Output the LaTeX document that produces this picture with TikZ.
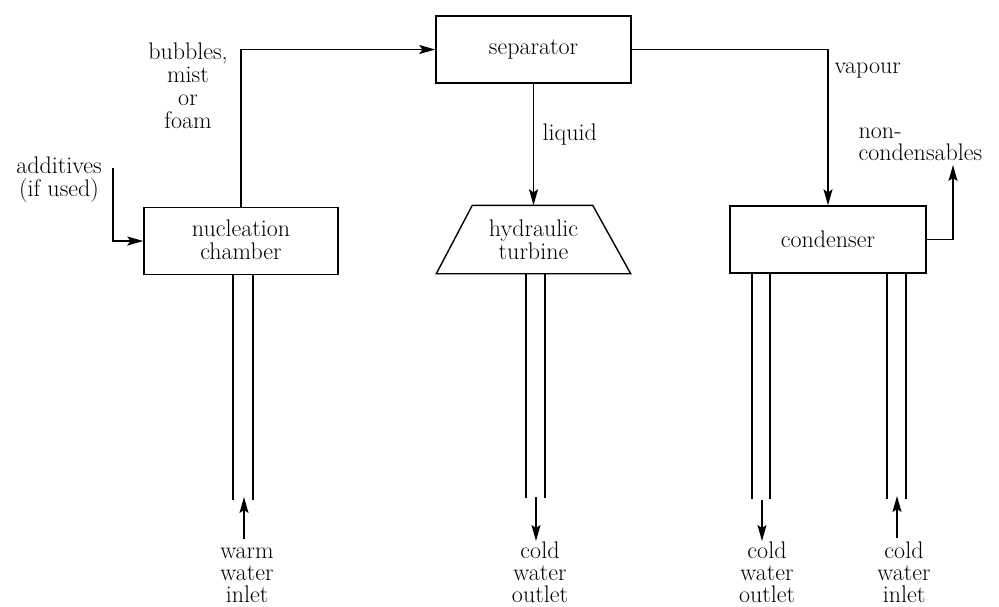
\documentclass[tikz,border=0pt]{standalone}
\usepackage{fontspec}
\usetikzlibrary{arrows.meta}
\begin{document}
\begin{tikzpicture}[x=1pt,y=-1pt,
  line width=1.4pt,
  font=\fontsize{24}{22.8}\selectfont,
  box/.style={draw, minimum width=#1, minimum height=67pt, inner sep=0pt, align=center},
  flow/.style={-{Stealth[length=16pt,width=9pt,inset=3pt]}},
  lbl/.style={inner sep=0pt, align=center},
  botlbl/.style={inner sep=0pt, align=center, anchor=north, font=\fontsize{24}{22}\selectfont},
]
\useasboundingbox (0,0) rectangle (999,606);

% main units
\node[box=195pt] (sep) at (533.5,49.5) {separator};
\node[box=194pt] (nuc) at (241,241) {nucleation\\chamber\rule[-3pt]{0pt}{3pt}};
\node[box=196pt] (cond) at (828,239.5) {condenser};
\node[minimum width=193pt, minimum height=67pt, inner sep=0pt, align=center] (turb) at (533.5,239.5) {hydraulic\\turbine};
\draw (turb.south west) -- (turb.south east) -- ([xshift=-38pt]turb.north east) -- ([xshift=36pt]turb.north west) -- cycle;

% labels
\node[lbl, anchor=north] (bub) at (188,42.3) {bubbles,\\mist\\or\\foam};
\node[lbl, anchor=north] (add) at (59,156.3) {additives\\(if used)};
\node[inner sep=0pt, anchor=base west] (liq) at (542,140) {liquid};
\node[inner sep=0pt, anchor=base west] (vap) at (834,73) {vapour};
\node[lbl, align=left, anchor=north west] (nonc) at (858,126.7) {non-\\condensables};

% flow connectors
\coordinate (addin) at (113,168);
\coordinate (ncout) at (953,165);
\draw[flow] (addin) |- (nuc.west);
\draw[flow] (nuc.north) |- (sep.west);
\draw[flow] (sep.south) -- (sep.south |- turb.north);
\draw[flow] (sep.east) -| (cond.north);
\draw[flow] (cond.east) -| (ncout);

% pipes
\draw ([xshift=-8pt]nuc.south) -- ++(0,225);
\draw ([xshift=12pt]nuc.south) -- ++(0,225);
\draw ([xshift=-7.5pt]turb.south) -- ++(0,224);
\draw ([xshift=11.5pt]turb.south) -- ++(0,224);
\draw ([xshift=-76pt]cond.south) -- ++(0,225);
\draw ([xshift=-58pt]cond.south) -- ++(0,225);
\draw ([xshift=59pt]cond.south) -- ++(0,225);
\draw ([xshift=78pt]cond.south) -- ++(0,225);

% pipe-end arrows
\coordinate (wwa) at (244,539); \coordinate (wwb) at (244,497);
\coordinate (coa) at (536,497); \coordinate (cob) at (536,541);
\coordinate (cpa) at (762,500); \coordinate (cpb) at (762,541);
\coordinate (cia) at (897,538); \coordinate (cib) at (897,496);
\draw[flow] (wwa) -- (wwb);
\draw[flow] (coa) -- (cob);
\draw[flow] (cpa) -- (cpb);
\draw[flow] (cia) -- (cib);

% bottom labels
\node[botlbl] (ww) at (247,547.5) {warm\\water\\inlet};
\node[botlbl] (cwo1) at (540,541.3) {cold\\water\\outlet};
\node[botlbl] (cwo2) at (767,541.3) {cold\\water\\outlet};
\node[botlbl] (cwi) at (904,541.3) {cold\\water\\inlet};
\end{tikzpicture}
\end{document}
